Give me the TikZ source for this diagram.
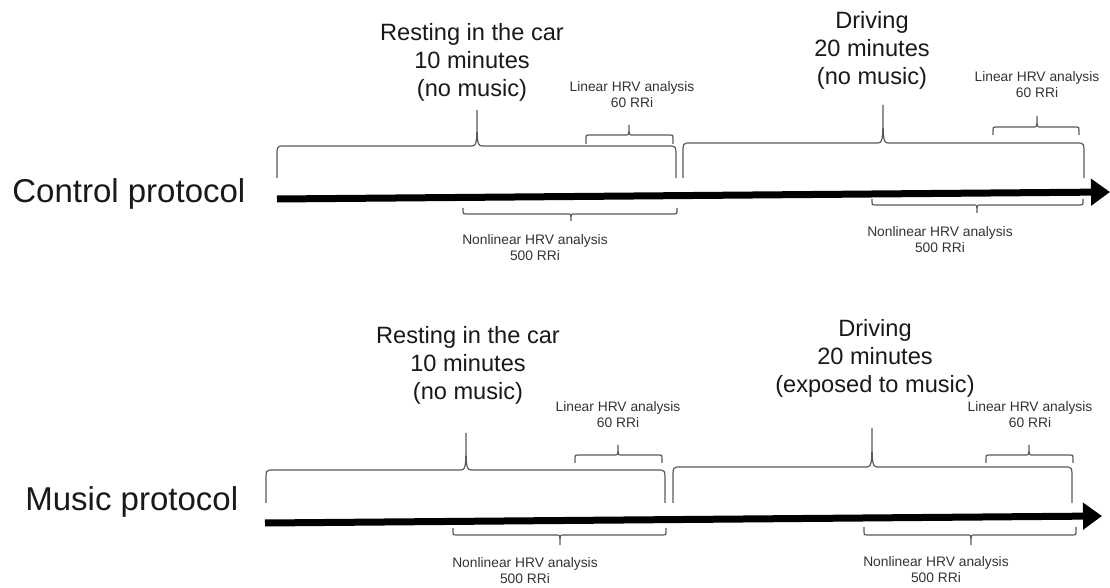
\documentclass[tikz,border=0pt]{standalone}
\usepackage{fontspec}
\setmainfont{Liberation Sans}
\usetikzlibrary{arrows.meta}

\begin{document}
\begin{tikzpicture}[x=0.5pt,y=-0.5pt]
\tikzset{
  phaselabel/.style={align=center,inner sep=0pt,font=\fontsize{11.8}{14}\selectfont,text=black!90},
  hrvlabel/.style={align=center,inner sep=0pt,font=\fontsize{6.9}{8}\selectfont,text=black!80},
  protolabel/.style={anchor=base west,inner sep=0pt,font=\fontsize{16.5}{20}\selectfont,text=black!90},
  timeline/.style={line width=3.5pt,-{Triangle[length=9.5pt,width=13pt]}},
  bracepath/.style={draw=black!65,line width=0.6pt},
  pics/bigbrace/.style args={#1/#2/#3/#4/#5/#6}{code={
    \draw[bracepath] (#1,#3) -- (#1,{#4+12}) .. controls (#1,#4) .. ({#1+7},#4)
      -- ({#5-7},#4) .. controls (#5,#4) .. (#5,#6) .. controls (#5,#4) .. ({#5+7},#4)
      -- ({#2-7},#4) .. controls (#2,#4) .. (#2,{#4+12}) -- (#2,#3);
  }},
  pics/smallbrace/.style args={#1/#2/#3/#4/#5/#6}{code={
    \draw[bracepath] (#1,#3) -- (#1,{#4+3*sign(#3-#4)}) .. controls (#1,#4) .. ({#1+3},#4)
      -- ({#5-3},#4) .. controls (#5,#4) .. (#5,#6) .. controls (#5,#4) .. ({#5+3},#4)
      -- ({#2-3},#4) .. controls (#2,#4) .. (#2,{#4+3*sign(#3-#4)}) -- (#2,#3);
  }}
}
\useasboundingbox (0,0) rectangle (1110,588);

% control protocol
\node[protolabel] (n_ctrl) at (12.00,203.00) {Control protocol};
\coordinate (c_ctrl0) at (277.00,199.00);
\coordinate (c_ctrl1) at (1110.00,192.00);
\draw[timeline] (c_ctrl0) -- (c_ctrl1);
\node[phaselabel] (n_rest1) at (472.00,62.00) {Resting in the car\\10 minutes\\(no music)};
\node[phaselabel] (n_drive1) at (872.00,50.00) {Driving\\20 minutes\\(no music)};
\node[hrvlabel] (n_lin1) at (632.00,95.00) {Linear HRV analysis\\60 RRi};
\node[hrvlabel] (n_lin2) at (1037.00,85.00) {Linear HRV analysis\\60 RRi};
\node[hrvlabel] (n_non1) at (535.00,248.00) {Nonlinear HRV analysis\\500 RRi};
\node[hrvlabel] (n_non2) at (940.00,240.00) {Nonlinear HRV analysis\\500 RRi};
\pic {bigbrace=277/676/178/146/477/110};
\pic {bigbrace=683/1084/178/143/883/105};
\pic {smallbrace=586/673/144/135/629/125};
\pic {smallbrace=993/1079/135/127/1037/116};
\pic {smallbrace=463/677/208/214/571/221};
\pic {smallbrace=872/1083/199/205/977/213};

% music protocol
\node[protolabel] (n_music) at (25.00,511.00) {Music protocol};
\coordinate (c_music0) at (265.00,523.00);
\coordinate (c_music1) at (1102.00,516.00);
\draw[timeline] (c_music0) -- (c_music1);
\node[phaselabel] (n_rest2) at (468.00,365.00) {Resting in the car\\10 minutes\\(no music)};
\node[phaselabel] (n_drive2) at (875.00,358.00) {Driving\\20 minutes\\(exposed to music)};
\node[hrvlabel] (n_lin3) at (618.00,415.00) {Linear HRV analysis\\60 RRi};
\node[hrvlabel] (n_lin4) at (1030.00,415.00) {Linear HRV analysis\\60 RRi};
\node[hrvlabel] (n_non3) at (525.00,571.00) {Nonlinear HRV analysis\\500 RRi};
\node[hrvlabel] (n_non4) at (936.00,570.00) {Nonlinear HRV analysis\\500 RRi};
\pic {bigbrace=266/665/503/470/466/433};
\pic {bigbrace=673/1072/503/467/872/428};
\pic {smallbrace=575/662/463/455/618/445};
\pic {smallbrace=986/1073/463/455/1029/445};
\pic {smallbrace=453/666/528/535/560/545};
\pic {smallbrace=864/1076/527/535/971/545};
\end{tikzpicture}
\end{document}
